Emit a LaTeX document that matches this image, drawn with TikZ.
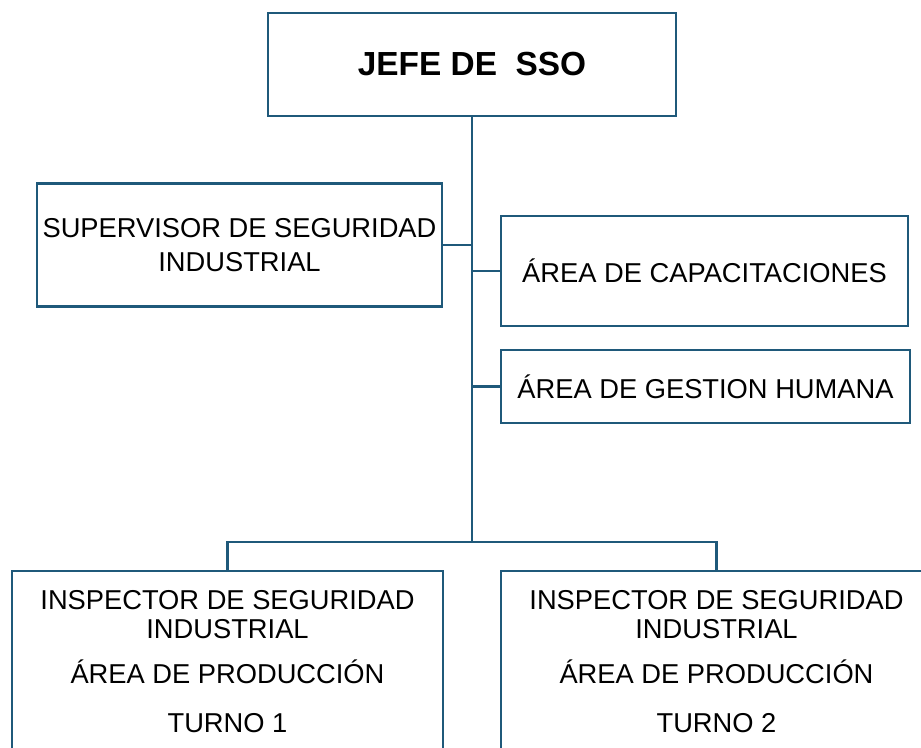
\documentclass[tikz,border=0pt]{standalone}
\usepackage{fontspec}
\setmainfont{Liberation Sans}
\usetikzlibrary{positioning}
\definecolor{azulorg}{RGB}{31,89,122}

\begin{document}
\begin{tikzpicture}[x=0.03cm, y=-0.03cm, inner sep=0pt,
  caja/.style={draw=azulorg, line width=2.1pt, align=center, font=\fontsize{23.3}{29}\selectfont},
  texto/.style={align=center, font=\fontsize{23.3}{24.5}\selectfont},
  rama/.style={draw=azulorg, line width=2.1pt}]
\useasboundingbox (0,0) rectangle (921,747);
\clip (0,0) rectangle (921,747);
% cajas
\node (jefe) at (472,64.5) [caja, minimum width=12.24cm, minimum height=3.09cm] {\fontsize{28.5}{32}\selectfont\bfseries JEFE DE\ \ SSO};
\node (supervisor) at (239.5,245) [caja, minimum width=12.15cm, minimum height=3.69cm] {SUPERVISOR DE SEGURIDAD\\INDUSTRIAL};
\node (capacitaciones) at (704.5,271) [caja, minimum width=12.21cm, minimum height=3.3cm] {ÁREA DE CAPACITACIONES};
\node (gestion) at (705.5,386.5) [caja, minimum width=12.27cm, minimum height=2.19cm] {ÁREA DE GESTION HUMANA};
\node (insp1) at (227.5,570) [caja, anchor=north, minimum width=12.93cm, minimum height=6.6cm] {};
\node (insp2) at (716.5,570) [caja, anchor=north, minimum width=12.93cm, minimum height=6.6cm] {};
\node (turno1) [texto, below=0.6cm of insp1.north] {INSPECTOR DE SEGURIDAD\\INDUSTRIAL\\[14pt]ÁREA DE PRODUCCIÓN\\[18pt]TURNO 1};
\node (turno2) [texto, below=0.6cm of insp2.north] {INSPECTOR DE SEGURIDAD\\INDUSTRIAL\\[14pt]ÁREA DE PRODUCCIÓN\\[18pt]TURNO 2};
% conectores
\coordinate (bus) at (472,542);
\draw[rama] (jefe.south) -- (bus);
\draw[rama] (supervisor.east) -- (supervisor.east -| jefe.south);
\draw[rama] (capacitaciones.west) -- (capacitaciones.west -| jefe.south);
\draw[rama] (gestion.west) -- (gestion.west -| jefe.south);
\draw[rama] (insp1.north) |- (bus) -| (insp2.north);
\end{tikzpicture}
\end{document}
